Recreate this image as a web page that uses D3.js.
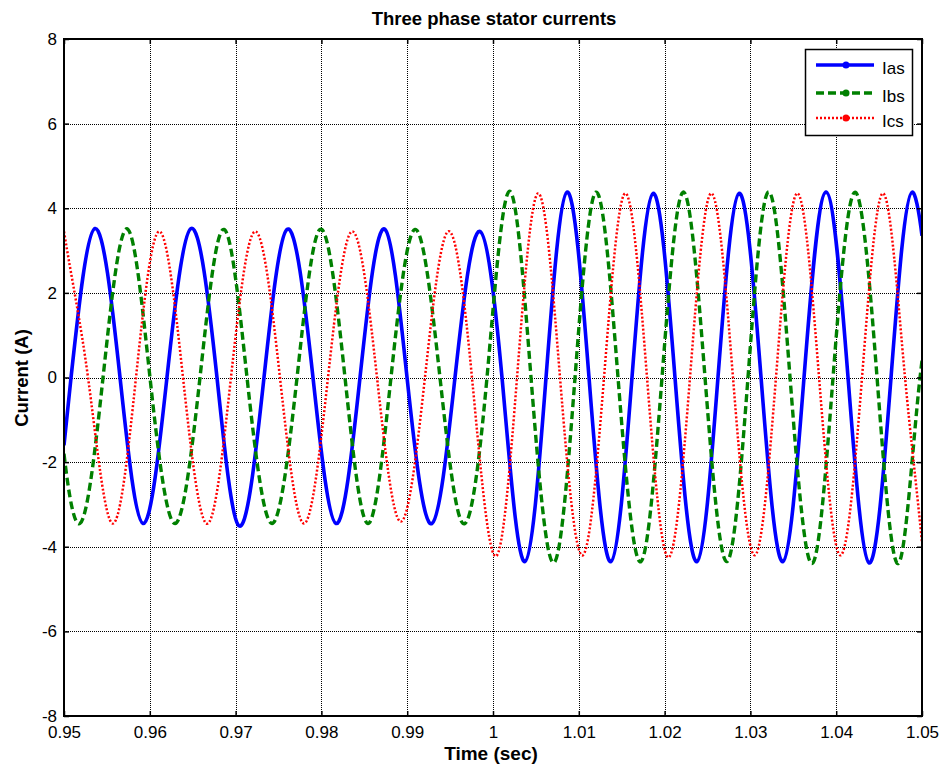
<!DOCTYPE html>
<html>
<head>
<meta charset="utf-8">
<script src="https://cdn.jsdelivr.net/npm/d3@7/dist/d3.min.js"></script>
<style>
  html, body { margin: 0; padding: 0; background: #fff; }
  svg { display: block; }
  text { font-family: Arial, "Liberation Sans", sans-serif; fill: #000; }
</style>
</head>
<body>
<svg id="chart" width="944" height="769"></svg>
<script>
// ---- data (time in s, current in A) ----
const seriesNames = ["Ias", "Ibs", "Ics"];
const xTicks = [0.95, 0.96, 0.97, 0.98, 0.99, 1, 1.01, 1.02, 1.03, 1.04, 1.05];
const yTicks = [-8, -6, -4, -2, 0, 2, 4, 6, 8];

const iasT = [0.95, 0.95082, 0.95361, 0.95653, 0.95921, 0.96200, 0.96480, 0.96783, 0.97028, 0.97331, 0.97599, 0.97902, 0.98170, 0.98450, 0.98741, 0.98998, 0.99289, 0.99557, 0.99848, 1.00105, 1.00373, 1.00618, 1.00862, 1.01119, 1.01375, 1.01620, 1.01865, 1.02121, 1.02378, 1.02622, 1.02867, 1.03124, 1.03380, 1.03625, 1.03881, 1.04138, 1.04382, 1.04639, 1.04884, 1.04942, 1.05];
const iasV = [-1.6, 0, 3.52, 0, -3.45, 0, 3.52, 0, -3.48, 0, 3.5, 0, -3.45, 0, 3.5, 0, -3.45, 0, 3.45, 0, -4.35, 0, 4.38, 0, -4.35, 0, 4.35, 0, -4.35, 0, 4.35, 0, -4.35, 0, 4.38, 0, -4.38, 0, 4.38, 4.1, 3.35];

const ibsT = [0.95, 0.95186, 0.95455, 0.95746, 0.96002, 0.96294, 0.96585, 0.96865, 0.97133, 0.97424, 0.97716, 0.97984, 0.98275, 0.98543, 0.98811, 0.99091, 0.99382, 0.99650, 0.99930, 1.00198, 1.00443, 1.00723, 1.00956, 1.01200, 1.01457, 1.01725, 1.01970, 1.02214, 1.02471, 1.02727, 1.02972, 1.03205, 1.03462, 1.03730, 1.03963, 1.04219, 1.04476, 1.04732, 1.04977, 1.05];
const ibsV = [-1.8, -3.45, 0, 3.5, 0, -3.45, 0, 3.5, 0, -3.45, 0, 3.5, 0, -3.45, 0, 3.5, 0, -3.45, 0, 4.4, 0, -4.35, 0, 4.38, 0, -4.35, 0, 4.38, 0, -4.35, 0, 4.38, 0, -4.38, 0, 4.38, 0, -4.38, 0, 0.4];

const icsT = [0.95, 0.95280, 0.95571, 0.95839, 0.96107, 0.96387, 0.96678, 0.96946, 0.97226, 0.97517, 0.97797, 0.98077, 0.98357, 0.98648, 0.98916, 0.99207, 0.99476, 0.99755, 1.00047, 1.00280, 1.00524, 1.00781, 1.01049, 1.01294, 1.01538, 1.01795, 1.02040, 1.02296, 1.02541, 1.02797, 1.03054, 1.03298, 1.03543, 1.03800, 1.04044, 1.04301, 1.04545, 1.04802, 1.05];
const icsV = [3.45, 0, -3.45, 0, 3.45, 0, -3.45, 0, 3.45, 0, -3.45, 0, 3.45, 0, -3.4, 0, 3.45, 0, -4.2, 0, 4.35, 0, -4.2, 0, 4.35, 0, -4.25, 0, 4.35, 0, -4.2, 0, 4.35, 0, -4.2, 0, 4.35, 0, -3.9];

// ---- a C2 cubic spline curve for d3.line, with end slopes from a 3-point fit ----
function ClampedSpline(context) { this._context = context; }
ClampedSpline.prototype = {
  areaStart() {}, areaEnd() {},
  lineStart() { this._px = []; this._py = []; },
  point(px, py) { this._px.push(+px); this._py.push(+py); },
  lineEnd() {
    const X = this._px, Y = this._py, n = X.length, ctx = this._context;
    if (!n) return;
    ctx.moveTo(X[0], Y[0]);
    if (n < 3) { for (let i = 1; i < n; i++) ctx.lineTo(X[i], Y[i]); return; }
    const h = [], s = [];
    for (let i = 0; i < n - 1; i++) { h[i] = X[i + 1] - X[i]; s[i] = (Y[i + 1] - Y[i]) / h[i]; }
    const a = new Array(n).fill(0), b = new Array(n).fill(0), c = new Array(n).fill(0), r = new Array(n).fill(0);
    b[0] = 1; r[0] = s[0] + (s[0] - s[1]) * h[0] / (h[0] + h[1]);
    b[n - 1] = 1; r[n - 1] = s[n - 2] + (s[n - 2] - s[n - 3]) * h[n - 2] / (h[n - 3] + h[n - 2]);
    for (let i = 1; i < n - 1; i++) {
      a[i] = h[i]; b[i] = 2 * (h[i - 1] + h[i]); c[i] = h[i - 1];
      r[i] = 3 * (h[i] * s[i - 1] + h[i - 1] * s[i]);
    }
    for (let i = 1; i < n; i++) {
      const w = a[i] / b[i - 1];
      b[i] -= w * c[i - 1]; r[i] -= w * r[i - 1];
    }
    const m = new Array(n);
    m[n - 1] = r[n - 1] / b[n - 1];
    for (let i = n - 2; i >= 0; i--) m[i] = (r[i] - c[i] * m[i + 1]) / b[i];
    for (let i = 0; i < n - 1; i++) {
      const d = h[i] / 3;
      ctx.bezierCurveTo(X[i] + d, Y[i] + m[i] * d, X[i + 1] - d, Y[i + 1] - m[i + 1] * d, X[i + 1], Y[i + 1]);
    }
  }
};
const curveClampedSpline = ctx => new ClampedSpline(ctx);

// ---- layout ----
const svg = d3.select("#chart");
const L = 64, R = 922, T = 39, B = 716;
const x = d3.scaleLinear().domain([0.95, 1.05]).range([L, R]);
const y = d3.scaleLinear().domain([-8, 8]).range([B, T]);

// gridlines
const grid = svg.append("g");
grid.selectAll("line.vx").data(xTicks.slice(1, -1)).join("line")
  .attr("x1", d => Math.round(x(d)) + 0.5).attr("x2", d => Math.round(x(d)) + 0.5)
  .attr("y1", T).attr("y2", B)
  .attr("stroke", "#000").attr("stroke-width", 1).attr("stroke-dasharray", "1,1");
grid.selectAll("line.hy").data(yTicks.slice(1, -1)).join("line")
  .attr("y1", d => Math.round(y(d)) + 0.5).attr("y2", d => Math.round(y(d)) + 0.5)
  .attr("x1", L).attr("x2", R)
  .attr("stroke", "#000").attr("stroke-width", 1).attr("stroke-dasharray", "1,1");

// series
svg.append("clipPath").attr("id", "clip").append("rect")
  .attr("x", L).attr("y", T).attr("width", R - L).attr("height", B - T);
const line = d3.line().x(d => x(d[0])).y(d => y(d[1])).curve(curveClampedSpline);
const zip = (a, b) => a.map((t, i) => [t, b[i]]);
const styles = [
  { data: zip(iasT, iasV), color: "#0000ff", width: 3.6, dash: null },
  { data: zip(ibsT, ibsV), color: "#008000", width: 3.4, dash: "8,4" },
  { data: zip(icsT, icsV), color: "#ff0000", width: 2.5, dash: "2,2" }
];
const plot = svg.append("g").attr("clip-path", "url(#clip)");
styles.forEach(s => {
  plot.append("path").datum(s.data).attr("d", line)
    .attr("fill", "none").attr("stroke", s.color).attr("stroke-width", s.width)
    .attr("stroke-linejoin", "round")
    .attr("stroke-dasharray", s.dash);
});

// axes with inward ticks on all four sides
const tickLen = 5;
const fmt = d => String(+d.toFixed(2));
const xAxisB = d3.axisBottom(x).tickValues(xTicks).tickSize(-tickLen).tickPadding(10).tickFormat(fmt);
const yAxisL = d3.axisLeft(y).tickValues(yTicks).tickSize(-tickLen).tickPadding(7).tickFormat(fmt);
const gxb = svg.append("g").attr("transform", `translate(0,${B})`).call(xAxisB);
const gyl = svg.append("g").attr("transform", `translate(${L},0)`).call(yAxisL);
const gxt = svg.append("g").attr("transform", `translate(0,${T})`).call(d3.axisTop(x).tickValues(xTicks).tickSize(-tickLen).tickFormat(""));
const gyr = svg.append("g").attr("transform", `translate(${R},0)`).call(d3.axisRight(y).tickValues(yTicks).tickSize(-tickLen).tickFormat(""));
[gxb, gyl, gxt, gyr].forEach(g => {
  g.select(".domain").remove();
  g.selectAll(".tick line").attr("stroke", "#000").attr("stroke-width", 1.5);
  g.selectAll(".tick text").attr("font-size", 17).attr("fill", "#000")
    .attr("font-family", "Arial, 'Liberation Sans', sans-serif");
});
gxb.selectAll(".tick text").attr("dy", "0.71em");

// frame
svg.append("rect").attr("x", L).attr("y", T).attr("width", R - L).attr("height", B - T)
  .attr("fill", "none").attr("stroke", "#000").attr("stroke-width", 2);

// title and labels
svg.append("text").attr("x", 494).attr("y", 25).attr("text-anchor", "middle")
  .attr("font-size", 18.5).attr("font-weight", "bold").text("Three phase stator currents");
svg.append("text").attr("x", 491).attr("y", 760).attr("text-anchor", "middle")
  .attr("font-size", 19).attr("font-weight", "bold").text("Time (sec)");
svg.append("text").attr("transform", "translate(28,378) rotate(-90)").attr("text-anchor", "middle")
  .attr("font-size", 18.5).attr("font-weight", "bold").text("Current (A)");

// legend
const lg = svg.append("g");
lg.append("rect").attr("x", 805.5).attr("y", 49.5).attr("width", 107).attr("height", 86)
  .attr("fill", "#fff").attr("stroke", "#000").attr("stroke-width", 1.5);
const legRows = [65, 93, 118];
styles.forEach((s, i) => {
  const ly = legRows[i];
  lg.append("line").attr("x1", 816).attr("x2", 874).attr("y1", ly).attr("y2", ly)
    .attr("stroke", s.color).attr("stroke-width", s.width).attr("stroke-dasharray", s.dash);
  lg.append("circle").attr("cx", 846).attr("cy", ly).attr("r", 3.5).attr("fill", s.color);
  lg.append("text").attr("x", 882).attr("y", ly + 9).attr("font-size", 17).text(seriesNames[i]);
});
</script>
</body>
</html>
